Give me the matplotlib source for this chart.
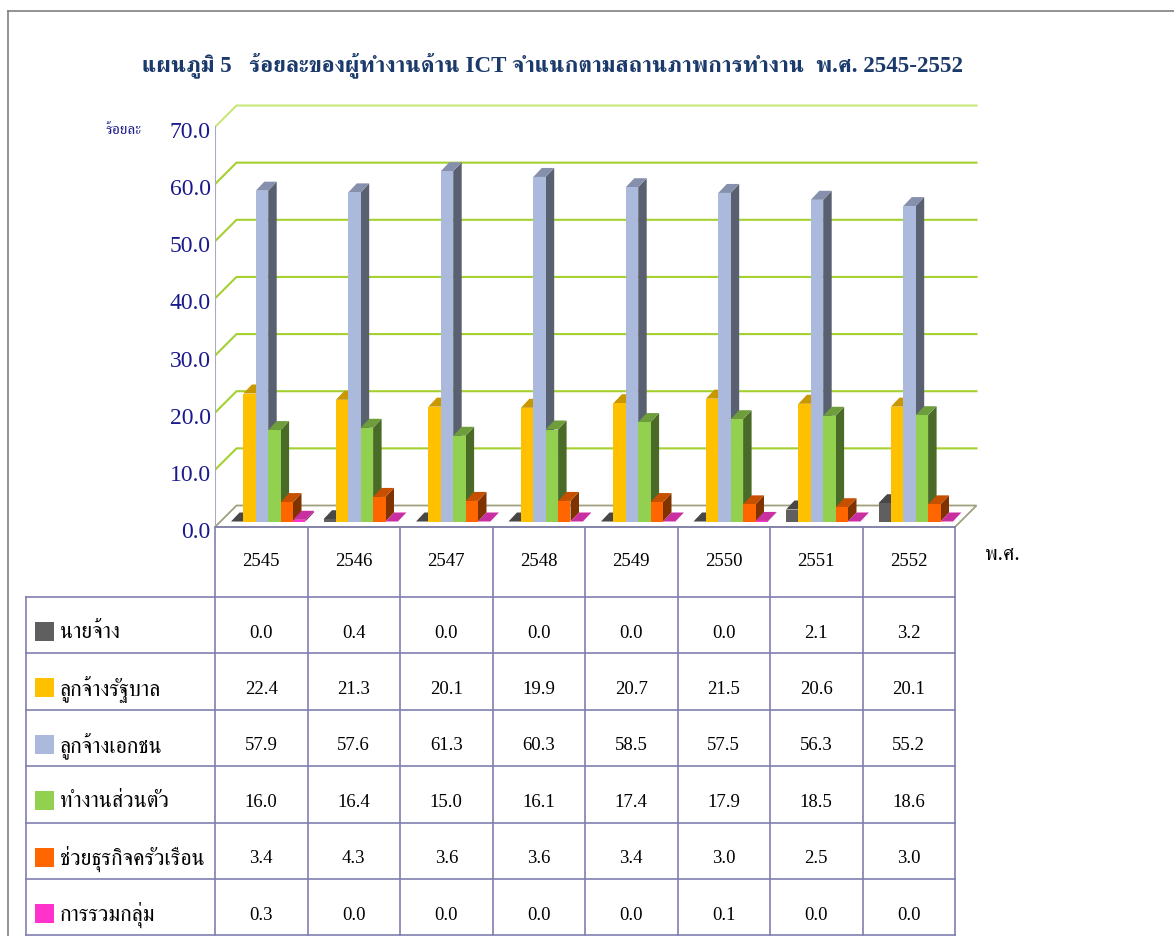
import matplotlib
matplotlib.use('Agg')
import matplotlib.pyplot as plt
from matplotlib import font_manager
from matplotlib.ft2font import FT2Font
from matplotlib.patches import Polygon, Rectangle
from matplotlib.transforms import ScaledTranslation

# ---- data ----
years = ['2545', '2546', '2547', '2548', '2549', '2550', '2551', '2552']
series_names = ['นายจ้าง', 'ลูกจ้างรัฐบาล', 'ลูกจ้างเอกชน', 'ทำงานส่วนตัว',
                'ช่วยธุรกิจครัวเรือน', 'การรวมกลุ่ม']
employer = [0.0, 0.4, 0.0, 0.0, 0.0, 0.0, 2.1, 3.2]
government = [22.4, 21.3, 20.1, 19.9, 20.7, 21.5, 20.6, 20.1]
private = [57.9, 57.6, 61.3, 60.3, 58.5, 57.5, 56.3, 55.2]
own_account = [16.0, 16.4, 15.0, 16.1, 17.4, 17.9, 18.5, 18.6]
family_business = [3.4, 4.3, 3.6, 3.6, 3.4, 3.0, 2.5, 3.0]
group_member = [0.3, 0.0, 0.0, 0.0, 0.0, 0.1, 0.0, 0.0]
yticks = [0, 10, 20, 30, 40, 50, 60, 70]
title = 'แผนภูมิ 5   ร้อยละของผู้ทำงานด้าน ICT จำแนกตามสถานภาพการทำงาน  พ.ศ. 2545-2552'

values = [employer, government, private, own_account, family_business, group_member]
# front, side, top
colors = [('#5F5F5F', '#383838', '#474747'),
          ('#FFC000', '#9C7600', '#C99800'),
          ('#AAB9DC', '#59606F', '#8690AC'),
          ('#92D050', '#4A6A28', '#6E9E3C'),
          ('#FF6600', '#7F3300', '#C65000'),
          ('#FF33CC', '#8F1F72', '#C92FA0')]


def find_thai_font():
    found = []
    for f in font_manager.fontManager.ttflist:
        try:
            if 0x0E01 in FT2Font(f.fname).get_charmap():
                found.append(f.name)
        except Exception:
            continue
    found = sorted(set(found), key=lambda n: (0 if 'Serif' in n else 1, n))
    return found[0] if found else None


thai = find_thai_font()
SERIF = ['Liberation Serif'] + ([thai] if thai else []) + ['DejaVu Sans']

W, H = 1174, 936
fig = plt.figure(figsize=(W / 100, H / 100), dpi=100)

# pixel layout of the plot area
X0, CAT = 215, 92.5
Y0, UNIT = 527, 5.714
XMAX, YMIN, YMAX = 8.4, -0.8, 75
ax = fig.add_axes([X0 / W, (H - (Y0 - YMIN * UNIT)) / H,
                   XMAX * CAT / W, (YMAX - YMIN) * UNIT / H])
ax.set_xlim(0, XMAX)
ax.set_ylim(YMIN, YMAX)
for s in ax.spines.values():
    s.set_visible(False)
ax.set_xticks([])


def px_x(p):
    return p / CAT


def px_y(p):
    return p / UNIT


n = len(years)
WDX, WDY = px_x(21.5), px_y(21.5)

# floor
ax.add_patch(Polygon([(0, 0), (n, 0), (n + WDX, WDY), (WDX, WDY)], closed=True,
                     facecolor='white', edgecolor='#A0A080', lw=1.3, zorder=1))
# back wall gridlines
for t in yticks[1:]:
    c = '#C8E67A' if t == yticks[-1] else '#A5D030'
    ax.plot([0, WDX, n + WDX], [t, t + WDY, t + WDY], color=c, lw=1.5, zorder=1)
ax.plot([0, 0], [0, yticks[-1]], color='#A8A8C0', lw=1.5, zorder=1)

ax.set_yticks(yticks, labels=[f'{t:.1f}' for t in yticks])
ax.tick_params(axis='y', length=0, pad=3, labelsize=17, labelcolor='#1A1A8C')
shift = ScaledTranslation(0, -3 / 100, fig.dpi_scale_trans)
for lab in ax.get_yticklabels():
    lab.set_family('Liberation Serif')
    lab.set_transform(lab.get_transform() + shift)

# 3d bars
MDX, MDY = px_x(5.5), px_y(5.5)
GAP, BW = px_x(10.5), px_x(12.4)
DX, DY = px_x(8.5), px_y(9)
for i in range(n):
    for j, vals in enumerate(values):
        v = vals[i]
        fc, sc, tc = colors[j]
        x = i + GAP + j * BW + MDX
        y0 = MDY
        ax.add_patch(Polygon([(x + BW, y0), (x + BW + DX, y0 + DY),
                              (x + BW + DX, y0 + v + DY), (x + BW, y0 + v)],
                             closed=True, facecolor=sc, edgecolor='none', zorder=2))
        ax.add_patch(Polygon([(x, y0 + v), (x + BW, y0 + v),
                              (x + BW + DX, y0 + v + DY), (x + DX, y0 + v + DY)],
                             closed=True, facecolor=tc, edgecolor='none', zorder=2))
        ax.add_patch(Rectangle((x, y0), BW, v, facecolor=fc, edgecolor='none', zorder=2))

# overlay in pixel coordinates: frame, title, table
ov = fig.add_axes([0, 0, 1, 1])
ov.set_xlim(0, W)
ov.set_ylim(H, 0)
ov.axis('off')
ov.patch.set_alpha(0)

ov.plot([8, W], [11, 11], color='#808080', lw=1.2)
ov.plot([8, 8], [11, H], color='#808080', lw=1.2)

ov.text(553, 65, title, ha='center', va='center', fontsize=16.6, fontweight='bold',
        color='#1B3A6B', family=SERIF)
ov.text(124, 130, 'ร้อยละ', ha='center', va='center', fontsize=11,
        color='#1A1A8C', family=SERIF)
ov.text(985, 556, 'พ.ศ.', ha='left', va='center', fontsize=15, color='black', family=SERIF)


def col_px(i):
    xd, _ = ax.transData.transform((i, 0))
    return xd


cols = [col_px(i) for i in range(n + 1)]
LINE = '#7F7FB0'
HEAD_TOP, HEAD_BOT, RH, LEFT = 527, 597, 56.4, 26
row_tops = [HEAD_BOT + k * RH for k in range(len(values) + 1)]

ov.plot([cols[0], cols[-1]], [HEAD_TOP, HEAD_TOP], color=LINE, lw=1.2)
for yr in row_tops:
    ov.plot([LEFT, cols[-1]], [yr, yr], color=LINE, lw=1.2)
for xc in cols:
    ov.plot([xc, xc], [HEAD_TOP, row_tops[-1]], color=LINE, lw=1.2)
ov.plot([LEFT, LEFT], [HEAD_BOT, row_tops[-1]], color=LINE, lw=1.2)

for i, yr in enumerate(years):
    ov.text((cols[i] + cols[i + 1]) / 2, (HEAD_TOP + HEAD_BOT) / 2, yr, ha='center',
            va='center', fontsize=13.5, family='Liberation Serif')

for j, (name, vals) in enumerate(zip(series_names, values)):
    top = row_tops[j]
    ov.add_patch(Rectangle((35, top + 25), 19, 19, facecolor=colors[j][0], edgecolor='none'))
    ov.text(60, top + 36, name, ha='left', va='center', fontsize=15.6, family=SERIF)
    for i, v in enumerate(vals):
        ov.text((cols[i] + cols[i + 1]) / 2, top + 36, f'{v:.1f}', ha='center',
                va='center', fontsize=13.5, family='Liberation Serif')

fig.savefig('out.png', dpi=100)
